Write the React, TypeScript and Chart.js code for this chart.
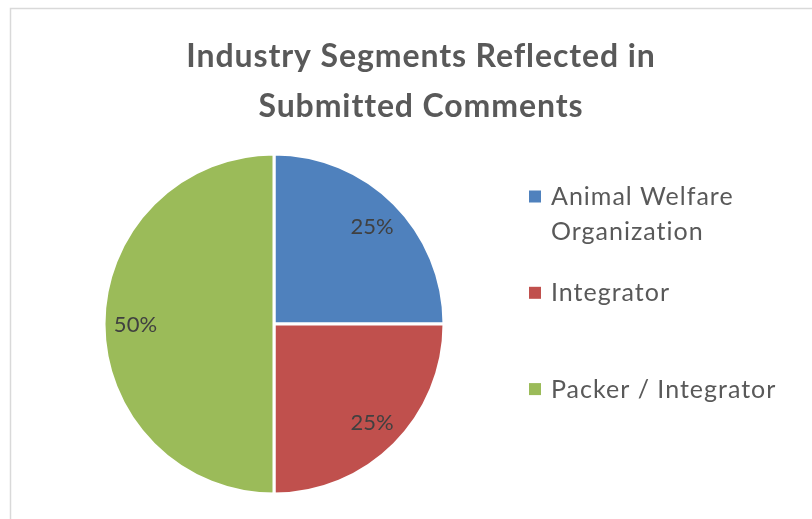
import React, { useEffect, useRef } from "react";
import { Chart, registerables } from "chart.js";

Chart.register(...registerables);

const titleLines = ["Industry Segments Reflected in", "Submitted Comments"];
const categories = ["Animal Welfare Organization", "Integrator", "Packer / Integrator"];
const shares = [25, 25, 50];
const colors = ["#4F81BD", "#C0504D", "#9BBB59"];

const FONT = "Lato, 'Open Sans', sans-serif";

function wrap(ctx: CanvasRenderingContext2D, text: string, maxW: number): string[] {
  const words = text.split(" ");
  const lines: string[] = [];
  let cur = "";
  for (const w of words) {
    const test = cur ? cur + " " + w : w;
    if (ctx.measureText(test).width > maxW && cur) {
      lines.push(cur);
      cur = w;
    } else cur = test;
  }
  if (cur) lines.push(cur);
  return lines;
}

const decor = {
  id: "decor",
  beforeDraw(chart: any) {
    const ctx = chart.ctx as CanvasRenderingContext2D;
    ctx.save();
    ctx.fillStyle = "#ffffff";
    ctx.fillRect(0, 0, chart.width, chart.height);
    ctx.strokeStyle = "#d9d9d9";
    ctx.lineWidth = 1.5;
    ctx.strokeRect(10.5, 8.5, chart.width + 10, chart.height + 10);
    ctx.restore();
  },
  afterDraw(chart: any) {
    const ctx = chart.ctx as any;
    ctx.save();
    // title
    ctx.fillStyle = "#595959";
    ctx.font = `bold 32px ${FONT}`;
    ctx.letterSpacing = "0.9px";
    ctx.textAlign = "center";
    ctx.textBaseline = "alphabetic";
    titleLines.forEach((t, i) => ctx.fillText(t, 421, 67 + i * 50));

    // data labels
    const meta = chart.getDatasetMeta(0);
    const data = chart.data.datasets[0].data as number[];
    const total = data.reduce((a, b) => a + b, 0);
    ctx.font = `22px ${FONT}`;
    ctx.letterSpacing = "0px";
    ctx.fillStyle = "#404040";
    ctx.textBaseline = "middle";
    meta.data.forEach((arc: any, i: number) => {
      const p = arc.getProps(["x", "y", "startAngle", "endAngle", "outerRadius"], true);
      const mid = (p.startAngle + p.endAngle) / 2;
      const r = p.outerRadius * 0.815;
      const pct = Math.round((data[i] / total) * 100) + "%";
      ctx.fillText(pct, p.x + Math.cos(mid) * r, p.y + Math.sin(mid) * r + 1);
    });

    // legend
    ctx.font = `25px ${FONT}`;
    ctx.letterSpacing = "1px";
    ctx.textAlign = "left";
    ctx.textBaseline = "alphabetic";
    const labels = chart.data.labels as string[];
    const bg = chart.data.datasets[0].backgroundColor as string[];
    labels.forEach((lab, i) => {
      const cy = 196.5 + i * 96.3;
      ctx.fillStyle = bg[i];
      ctx.fillRect(529, cy - 6, 12, 12);
      ctx.fillStyle = "#595959";
      const lines = wrap(ctx, lab, 245);
      lines.forEach((ln, j) => ctx.fillText(ln, 551, cy + 8.5 + j * 35));
    });
    ctx.restore();
  },
};

export default function App() {
  const ref = useRef<HTMLCanvasElement>(null);
  useEffect(() => {
    if (!ref.current) return;
    const chart = new Chart(ref.current, {
      type: "pie",
      data: {
        labels: categories,
        datasets: [
          {
            data: shares,
            backgroundColor: colors,
            borderColor: "#ffffff",
            borderWidth: 3,
          },
        ],
      },
      options: {
        animation: false,
        responsive: true,
        maintainAspectRatio: false,
        radius: 170,
        layout: { padding: { left: 105, right: 369, top: 155, bottom: 26 } },
        plugins: {
          legend: { display: false },
          title: { display: false },
          tooltip: { enabled: false },
        },
      } as any,
      plugins: [decor],
    });
    return () => chart.destroy();
  }, []);
  return (
    <div style={{ position: "absolute", left: 0, top: 0, width: 812, height: 519 }}>
      <canvas ref={ref} />
    </div>
  );
}
